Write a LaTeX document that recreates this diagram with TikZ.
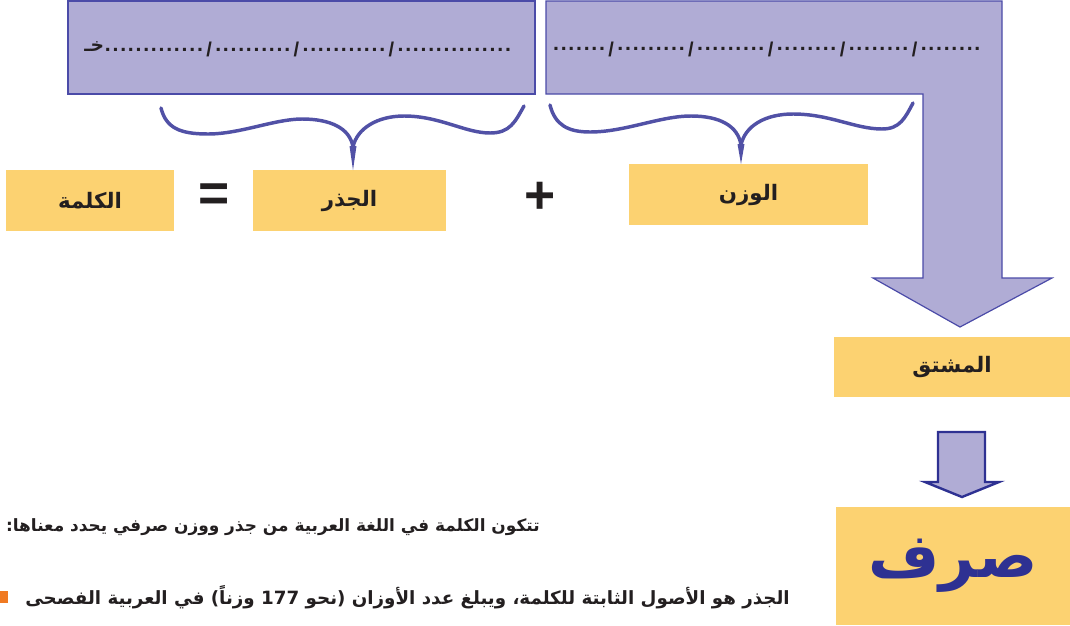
\documentclass[tikz,border=0pt]{standalone}
\usepackage{fontspec}
\setmainfont{Liberation Sans}
\newfontfamily\arabicfont[Script=Arabic]{DejaVu Sans}
\TeXXeTstate=1
\definecolor{lav}{HTML}{B0ACD5}
\definecolor{lavline}{HTML}{4B4BA8}
\definecolor{ylw}{HTML}{FCD271}
\definecolor{brc}{HTML}{5151A6}
\definecolor{ink}{HTML}{231F20}
\definecolor{deepblue}{HTML}{2E3192}
\definecolor{orng}{HTML}{F07A22}
\newcommand\dotrun[1]{\foreach\i in {1,...,#1}{\makebox[5.75pt]{.}}}
\newcommand\slsh{\makebox[8pt]{\raisebox{-4pt}{\fontsize{15}{15}\selectfont/}}}
\tikzset{
  lavbox/.style={fill=lav, draw=lavline, line width=0.9pt, inner sep=0pt},
  ybox/.style 2 args={fill=ylw, inner sep=0pt, minimum width=#1*0.75pt, minimum height=#2*0.75pt, font=\arabicfont\bfseries\fontsize{16}{18}\selectfont, text=ink},
  dotline/.style={anchor=west, inner sep=0pt, font=\bfseries\fontsize{16}{18}\selectfont, text=ink},
  bracepath/.style={draw=brc, line width=2.6pt, line cap=round},
  spike/.style={fill=brc},
  opsign/.style={font=\bfseries\fontsize{40}{40}\selectfont, text=ink, inner sep=0pt},
  smallarrow/.style={fill=lav, draw=deepblue, line width=1.8pt, line join=miter},
  bodytext/.style={anchor=east, inner sep=0pt, text=ink},
}
\begin{document}
\begin{tikzpicture}[x=0.75pt, y=-0.75pt]
\useasboundingbox (0,0) rectangle (1070,625);

% top-left box
\node[lavbox, minimum width=467*0.75pt, minimum height=93*0.75pt] (tl) at (301.5,47.5) {};
\node[dotline] (tltext) at (84,49) {{\arabicfont\fontsize{14}{16}\selectfont\beginR خـ\endR}\dotrun{13}\slsh\dotrun{10}\slsh\dotrun{11}\slsh\dotrun{15}};

% top-right L-shaped arrow
\draw[lavbox] (546,1) -- (1002,1) -- (1002,278) -- (1052,278) -- (960,327) -- (873,278) -- (923,278) -- (923,94) -- (546,94) -- cycle;
\coordinate (trtip) at (960,327);
\node[dotline] (trtext) at (552,49) {\dotrun{7}\slsh\dotrun{9}\slsh\dotrun{9}\slsh\dotrun{8}\slsh\dotrun{8}\slsh\dotrun{8}};

% yellow boxes
\node[ybox={168}{61}] (word) at (90,200.5) {\beginR الكلمة\endR};
\node[opsign] (eq) at (214,198) {=};
\node[ybox={193}{61}] (root) at (349.5,200.5) {\beginR الجذر\endR};
\node[opsign] (plus) at (540,198) {+};
\node[ybox={239}{61}] (pattern) at (748.5,194.5) {\beginR الوزن\endR};
\node[ybox={236}{60}] (deriv) at (952,367) {\beginR المشتق\endR};
\node[ybox={234}{118}, font=\arabicfont\bfseries\fontsize{46}{50}\selectfont, text=deepblue] (final) at (953,566) {\beginR صرف\endR};

% braces
\draw[bracepath] (161,108) .. controls (166,128) and (180,134) .. (208,134)
  .. controls (240,134) and (275,119) .. (302,119)
  .. controls (330,119) and (350,128) .. (353,147);
\draw[bracepath] (353,147) .. controls (357,128) and (378,116) .. (404,116)
  .. controls (440,116) and (465,133) .. (490,133)
  .. controls (510,133) and (515,122) .. (524,106);
\fill[spike] (349.5,146) -- (356.5,146) -- (353,170) -- cycle;
\draw[bracepath] (550,105) .. controls (555,125) and (568,132) .. (590,132)
  .. controls (625,132) and (660,116) .. (691,116)
  .. controls (720,116) and (738,126) .. (741,145);
\draw[bracepath] (741,145) .. controls (745,126) and (765,114) .. (793,114)
  .. controls (830,114) and (855,129) .. (882,129)
  .. controls (900,129) and (905,118) .. (913,103);
\fill[spike] (737.5,144) -- (744.5,144) -- (741,164) -- cycle;

% small arrow
\draw[smallarrow] (938,432) -- (985,432) -- (985,482) -- (999,482) -- (962,497) -- (925,482) -- (938,482) -- cycle;
\coordinate (smalltip) at (962,497);

% bottom text
\node[bodytext, font=\arabicfont\bfseries\fontsize{12.7}{15}\selectfont] (line1) at (540,527) {\beginR تتكون الكلمة في اللغة العربية من جذر ووزن صرفي يحدد معناها:\endR};
\node[bodytext, font=\arabicfont\bfseries\fontsize{13.7}{16}\selectfont] (line2) at (790,597) {\beginR الجذر هو الأصول الثابتة للكلمة، ويبلغ عدد الأوزان (نحو \beginL 177\endL{} وزناً) في العربية الفصحى\endR};
\fill[orng] (0,591) rectangle (8,603);
\end{tikzpicture}
\end{document}
